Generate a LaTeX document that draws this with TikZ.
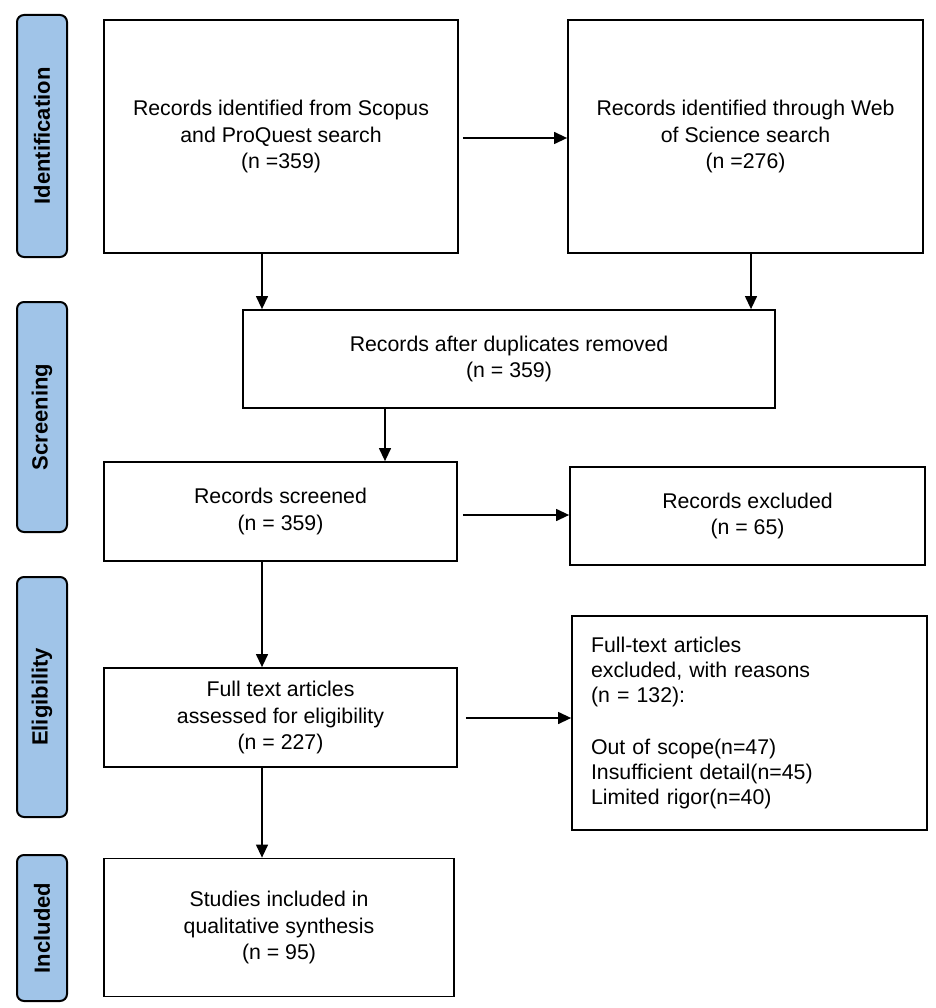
\documentclass[tikz,border=0pt]{standalone}
\usepackage{fontspec}
\setmainfont{Liberation Sans}
\usetikzlibrary{arrows.meta}
\definecolor{stageblue}{RGB}{160,196,232}
\tikzset{
  box/.style={draw=black, line width=1.8pt, fill=white, inner sep=0pt, align=center,
    font=\fontsize{21.3}{26.3}\selectfont},
  stage/.style={draw=black, line width=2pt, fill=stageblue, rounded corners=7pt,
    inner sep=0pt, font=\bfseries\fontsize{22}{24}\selectfont},
  arr/.style={draw=black, line width=1.3pt, -{Triangle[length=13pt,width=12pt]}},
}
\begin{document}
\begin{tikzpicture}[x=1pt,y=-1pt]
\useasboundingbox (0,0) rectangle (935,1008);
% stage labels
\node[stage, minimum width=50pt, minimum height=242pt] (s1) at (42,136) {};
\node[rotate=90, font=\bfseries\fontsize{22}{24}\selectfont] (t1) at (s1.center) {Identification};
\node[stage, minimum width=50pt, minimum height=230pt] (s2) at (42,417) {};
\node[rotate=90, font=\bfseries\fontsize{22}{24}\selectfont] (t2) at (s2.center) {Screening};
\node[stage, minimum width=50pt, minimum height=240pt] (s3) at (42,697) {};
\node[rotate=90, font=\bfseries\fontsize{22}{24}\selectfont] (t3) at (s3.center) {Eligibility};
\node[stage, minimum width=50pt, minimum height=146pt] (s4) at (42,928) {};
\node[rotate=90, font=\bfseries\fontsize{22}{24}\selectfont] (t4) at (s4.center) {Included};
% boxes
\node[box, minimum width=354pt, minimum height=233pt] (b1) at (281,136.5)
  {Records identified from Scopus\\and ProQuest search\\(n =359)};
\node[box, minimum width=355pt, minimum height=233pt] (b2) at (745.5,136.5)
  {Records identified through Web\\of Science search\\(n =276)};
\node[box, minimum width=532pt, minimum height=98pt] (b3) at (509,359)
  {Records after duplicates removed\\(n = 359)};
\node[box, minimum width=353pt, minimum height=99pt] (b4) at (280.5,511.5)
  {Records screened\\(n = 359)};
\node[box, minimum width=355pt, minimum height=98pt] (b5) at (747.5,516)
  {Records excluded\\(n = 65)};
\node[box, minimum width=353pt, minimum height=99pt] (b6) at (280.5,717.5)
  {Full text articles\\assessed for eligibility\\(n = 227)};
\node[box, minimum width=355pt, minimum height=214pt, align=left, text width=317pt,
  inner xsep=19pt, font=\fontsize{21.3}{25.3}\selectfont] (b7) at (749.5,723)
  {Full-text articles\\excluded, with reasons\\(n = 132):\\[26pt]Out of scope(n=47)\\Insufficient detail(n=45)\\Limited rigor(n=40)};
\node[box, minimum width=350pt, minimum height=138pt] (b8) at (279,927.5)
  {Studies included in\\qualitative synthesis\\(n = 95)};
% connector guide coordinates
\coordinate (xa) at (262,0);
\coordinate (xb) at (751,0);
\coordinate (xc) at (385,0);
\coordinate (ya) at (0,138);
\coordinate (yb) at (0,515);
\coordinate (yc) at (0,718);
% connectors
\draw[arr, shorten <=4pt] (b1.east |- ya) -- (b2.west |- ya);
\draw[arr] (b1.south -| xa) -- (b3.north -| xa);
\draw[arr] (b2.south -| xb) -- (b3.north -| xb);
\draw[arr] (b3.south -| xc) -- (b4.north -| xc);
\draw[arr, shorten <=5pt] (b4.east |- yb) -- (b5.west |- yb);
\draw[arr] (b4.south -| xa) -- (b6.north -| xa);
\draw[arr, shorten <=8pt] (b6.east |- yc) -- (b7.west |- yc);
\draw[arr] (b6.south -| xa) -- (b8.north -| xa);
\end{tikzpicture}
\end{document}
